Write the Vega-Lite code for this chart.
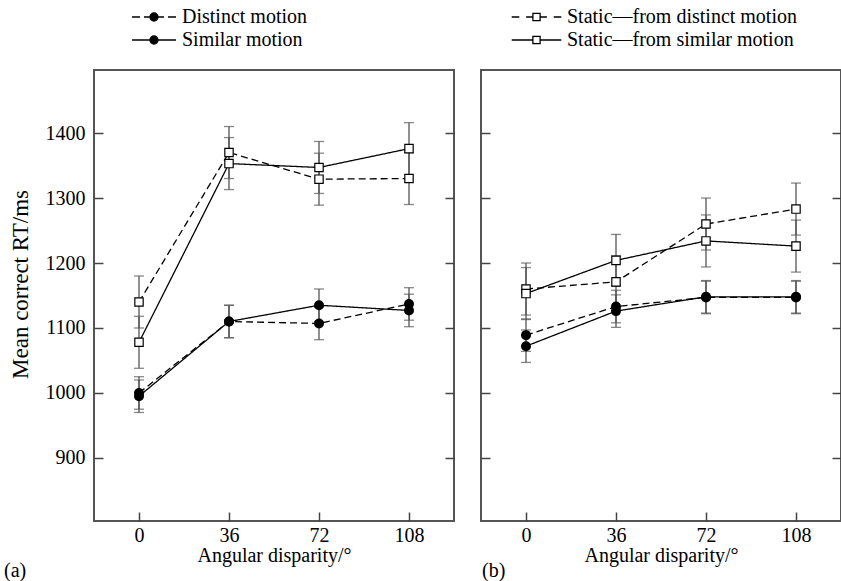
{
  "$schema": "https://vega.github.io/schema/vega-lite/v6.json",
  "padding": {"left": 3, "top": 6, "right": 2, "bottom": 0},
  "background": "white",
  "datasets": {
    "d": [
      {"panel": "a", "series": "Distinct motion", "x": 0, "y": 1000, "lo": 975, "hi": 1025},
      {"panel": "a", "series": "Distinct motion", "x": 36, "y": 1110, "lo": 1085, "hi": 1135},
      {"panel": "a", "series": "Distinct motion", "x": 72, "y": 1107, "lo": 1082, "hi": 1132},
      {"panel": "a", "series": "Distinct motion", "x": 108, "y": 1137, "lo": 1112, "hi": 1162},
      {"panel": "a", "series": "Similar motion", "x": 0, "y": 995, "lo": 970, "hi": 1020},
      {"panel": "a", "series": "Similar motion", "x": 36, "y": 1110, "lo": 1085, "hi": 1135},
      {"panel": "a", "series": "Similar motion", "x": 72, "y": 1135, "lo": 1110, "hi": 1160},
      {"panel": "a", "series": "Similar motion", "x": 108, "y": 1127, "lo": 1102, "hi": 1152},
      {"panel": "a", "series": "Static—from distinct motion", "x": 0, "y": 1140, "lo": 1100, "hi": 1180},
      {"panel": "a", "series": "Static—from distinct motion", "x": 36, "y": 1370, "lo": 1330, "hi": 1410},
      {"panel": "a", "series": "Static—from distinct motion", "x": 72, "y": 1329, "lo": 1289, "hi": 1369},
      {"panel": "a", "series": "Static—from distinct motion", "x": 108, "y": 1330, "lo": 1290, "hi": 1370},
      {"panel": "a", "series": "Static—from similar motion", "x": 0, "y": 1078, "lo": 1038, "hi": 1118},
      {"panel": "a", "series": "Static—from similar motion", "x": 36, "y": 1353, "lo": 1313, "hi": 1393},
      {"panel": "a", "series": "Static—from similar motion", "x": 72, "y": 1347, "lo": 1307, "hi": 1387},
      {"panel": "a", "series": "Static—from similar motion", "x": 108, "y": 1376, "lo": 1336, "hi": 1416},
      {"panel": "b", "series": "Distinct motion", "x": 0, "y": 1089, "lo": 1064, "hi": 1114},
      {"panel": "b", "series": "Distinct motion", "x": 36, "y": 1133, "lo": 1108, "hi": 1158},
      {"panel": "b", "series": "Distinct motion", "x": 72, "y": 1147, "lo": 1122, "hi": 1172},
      {"panel": "b", "series": "Distinct motion", "x": 108, "y": 1147, "lo": 1122, "hi": 1172},
      {"panel": "b", "series": "Similar motion", "x": 0, "y": 1072, "lo": 1047, "hi": 1097},
      {"panel": "b", "series": "Similar motion", "x": 36, "y": 1126, "lo": 1101, "hi": 1151},
      {"panel": "b", "series": "Similar motion", "x": 72, "y": 1148, "lo": 1123, "hi": 1173},
      {"panel": "b", "series": "Similar motion", "x": 108, "y": 1148, "lo": 1123, "hi": 1173},
      {"panel": "b", "series": "Static—from distinct motion", "x": 0, "y": 1160, "lo": 1120, "hi": 1200},
      {"panel": "b", "series": "Static—from distinct motion", "x": 36, "y": 1171, "lo": 1131, "hi": 1211},
      {"panel": "b", "series": "Static—from distinct motion", "x": 72, "y": 1260, "lo": 1220, "hi": 1300},
      {"panel": "b", "series": "Static—from distinct motion", "x": 108, "y": 1283, "lo": 1243, "hi": 1323},
      {"panel": "b", "series": "Static—from similar motion", "x": 0, "y": 1153, "lo": 1113, "hi": 1193},
      {"panel": "b", "series": "Static—from similar motion", "x": 36, "y": 1204, "lo": 1164, "hi": 1244},
      {"panel": "b", "series": "Static—from similar motion", "x": 72, "y": 1234, "lo": 1194, "hi": 1274},
      {"panel": "b", "series": "Static—from similar motion", "x": 108, "y": 1226, "lo": 1186, "hi": 1266}
    ]
  },
  "data": {"name": "d"},
  "spacing": 23,
  "hconcat": [
    {
      "width": 360,
      "height": 451,
      "transform": [{"filter": "datum.panel === 'a'"}],
      "title": {"text": "(a)", "orient": "bottom", "anchor": "start", "frame": "group", "dx": -90, "dy": -4, "offset": 0},
      "layer": [
        {
          "mark": {"type": "line", "color": "black", "strokeWidth": 1.3},
          "encoding": {
            "x": {"field": "x", "type": "quantitative", "scale": {"domain": [-18, 126], "nice": false, "zero": false},
                  "axis": {"values": [0, 36, 72, 108], "title": "Angular disparity/°", "tickSize": -9, "labelPadding": 13, "domain": false, "grid": false, "titlePadding": 0}},
            "y": {"field": "y", "type": "quantitative", "scale": {"domain": [803, 1497], "nice": false, "zero": false},
                  "axis": {"orient": "left", "values": [900, 1000, 1100, 1200, 1300, 1400], "format": "d", "title": "Mean correct RT/ms", "titleFontSize": 23, "titleY": 214, "tickSize": -9, "labelPadding": 18, "domain": false, "grid": false, "titlePadding": 13}},
            "detail": {"field": "series"},
            "strokeDash": {"field": "series", "type": "nominal",
                           "scale": {"domain": ["Distinct motion", "Similar motion", "Static—from distinct motion", "Static—from similar motion"], "range": [[7, 4], [1, 0], [7, 4], [1, 0]]},
                           "legend": null}
          }
        },
        {
          "mark": {"type": "rule", "color": "#555", "strokeWidth": 1.3},
          "encoding": {
            "x": {"field": "x", "type": "quantitative", "scale": {"domain": [-18, 126], "nice": false, "zero": false}},
            "y": {"field": "lo", "type": "quantitative", "scale": {"domain": [803, 1497], "nice": false, "zero": false},
                  "axis": {"orient": "right", "values": [900, 1000, 1100, 1200, 1300, 1400], "labels": false, "title": null, "tickSize": -9, "domain": false, "grid": false}},
            "y2": {"field": "hi"}
          }
        },
        {
          "mark": {"type": "tick", "orient": "horizontal", "size": 10, "thickness": 1.3, "color": "#555"},
          "encoding": {
            "x": {"field": "x", "type": "quantitative", "scale": {"domain": [-18, 126], "nice": false, "zero": false}},
            "y": {"field": "lo", "type": "quantitative", "scale": {"domain": [803, 1497], "nice": false, "zero": false}, "axis": null}
          }
        },
        {
          "mark": {"type": "tick", "orient": "horizontal", "size": 10, "thickness": 1.3, "color": "#555"},
          "encoding": {
            "x": {"field": "x", "type": "quantitative", "scale": {"domain": [-18, 126], "nice": false, "zero": false}},
            "y": {"field": "hi", "type": "quantitative", "scale": {"domain": [803, 1497], "nice": false, "zero": false}, "axis": null}
          }
        },
        {
          "transform": [{"filter": {"field": "series", "oneOf": ["Distinct motion", "Similar motion"]}}],
          "mark": {"type": "point", "shape": "circle", "filled": true, "color": "black", "size": 100, "opacity": 1},
          "encoding": {
            "x": {"field": "x", "type": "quantitative", "scale": {"domain": [-18, 126], "nice": false, "zero": false}},
            "y": {"field": "y", "type": "quantitative", "scale": {"domain": [803, 1497], "nice": false, "zero": false}, "axis": null}
          }
        },
        {
          "transform": [{"filter": {"field": "series", "oneOf": ["Static—from distinct motion", "Static—from similar motion"]}}],
          "mark": {"type": "point", "shape": "square", "filled": true, "fill": "white", "stroke": "black", "strokeWidth": 1.2, "size": 70, "opacity": 1},
          "encoding": {
            "x": {"field": "x", "type": "quantitative", "scale": {"domain": [-18, 126], "nice": false, "zero": false}},
            "y": {"field": "y", "type": "quantitative", "scale": {"domain": [803, 1497], "nice": false, "zero": false}, "axis": null}
          }
        },
        {
          "transform": [{"filter": "datum.x < -1000"}],
          "mark": {"type": "point", "filled": false, "fill": "black", "stroke": "black", "strokeWidth": 1.3, "opacity": 1},
          "encoding": {
            "x": {"field": "x", "type": "quantitative", "scale": {"domain": [-18, 126], "nice": false, "zero": false}},
            "y": {"field": "y", "type": "quantitative", "scale": {"domain": [803, 1497], "nice": false, "zero": false}, "axis": null},
            "shape": {"field": "series", "type": "nominal",
                      "scale": {"domain": ["Distinct motion", "Similar motion"],
                                "range": ["M-5.5,0H-3.5M-2.5,0H-1M1,0H2.5M3.5,0H5.5M-1,0A1,1 0 1,0 1,0A1,1 0 1,0 -1,0Z",
                                          "M-5.5,0H-1M1,0H5.5M-1,0A1,1 0 1,0 1,0A1,1 0 1,0 -1,0Z"]},
                      "legend": {"orient": "none", "legendX": 50, "legendY": -63, "direction": "vertical", "title": null,
                                 "symbolSize": 64, "labelOffset": 18, "labelFontSize": 20, "labelFont": "Liberation Serif", "labelColor": "black", "labelLimit": 500,
                                 "symbolStrokeWidth": 1.3,
                                 "rowPadding": 3, "padding": 0,
                                 "encode": {"symbols": {"stroke": {"value": "black"}, "fill": {"value": "black"}, "strokeWidth": {"value": 1.3}}}}}
          }
        }
      ],
      "resolve": {"axis": {"y": "independent"}}
    },
    {
      "width": 360,
      "height": 451,
      "transform": [{"filter": "datum.panel === 'b'"}],
      "title": {"text": "(b)", "orient": "bottom", "anchor": "start", "frame": "group", "dx": 1, "dy": -4, "offset": 0},
      "layer": [
        {
          "mark": {"type": "line", "color": "black", "strokeWidth": 1.3},
          "encoding": {
            "x": {"field": "x", "type": "quantitative", "scale": {"domain": [-18, 126], "nice": false, "zero": false},
                  "axis": {"values": [0, 36, 72, 108], "title": "Angular disparity/°", "tickSize": -9, "labelPadding": 13, "domain": false, "grid": false, "titlePadding": 0}},
            "y": {"field": "y", "type": "quantitative", "scale": {"domain": [803, 1497], "nice": false, "zero": false},
                  "axis": {"orient": "left", "values": [900, 1000, 1100, 1200, 1300, 1400], "labels": false, "title": null, "tickSize": -9, "domain": false, "grid": false}},
            "detail": {"field": "series"},
            "strokeDash": {"field": "series", "type": "nominal",
                           "scale": {"domain": ["Distinct motion", "Similar motion", "Static—from distinct motion", "Static—from similar motion"], "range": [[7, 4], [1, 0], [7, 4], [1, 0]]},
                           "legend": null}
          }
        },
        {
          "mark": {"type": "rule", "color": "#555", "strokeWidth": 1.3},
          "encoding": {
            "x": {"field": "x", "type": "quantitative", "scale": {"domain": [-18, 126], "nice": false, "zero": false}},
            "y": {"field": "lo", "type": "quantitative", "scale": {"domain": [803, 1497], "nice": false, "zero": false},
                  "axis": {"orient": "right", "values": [900, 1000, 1100, 1200, 1300, 1400], "labels": false, "title": null, "tickSize": -9, "domain": false, "grid": false}},
            "y2": {"field": "hi"}
          }
        },
        {
          "mark": {"type": "tick", "orient": "horizontal", "size": 10, "thickness": 1.3, "color": "#555"},
          "encoding": {
            "x": {"field": "x", "type": "quantitative", "scale": {"domain": [-18, 126], "nice": false, "zero": false}},
            "y": {"field": "lo", "type": "quantitative", "scale": {"domain": [803, 1497], "nice": false, "zero": false}, "axis": null}
          }
        },
        {
          "mark": {"type": "tick", "orient": "horizontal", "size": 10, "thickness": 1.3, "color": "#555"},
          "encoding": {
            "x": {"field": "x", "type": "quantitative", "scale": {"domain": [-18, 126], "nice": false, "zero": false}},
            "y": {"field": "hi", "type": "quantitative", "scale": {"domain": [803, 1497], "nice": false, "zero": false}, "axis": null}
          }
        },
        {
          "transform": [{"filter": {"field": "series", "oneOf": ["Distinct motion", "Similar motion"]}}],
          "mark": {"type": "point", "shape": "circle", "filled": true, "color": "black", "size": 100, "opacity": 1},
          "encoding": {
            "x": {"field": "x", "type": "quantitative", "scale": {"domain": [-18, 126], "nice": false, "zero": false}},
            "y": {"field": "y", "type": "quantitative", "scale": {"domain": [803, 1497], "nice": false, "zero": false}, "axis": null}
          }
        },
        {
          "transform": [{"filter": {"field": "series", "oneOf": ["Static—from distinct motion", "Static—from similar motion"]}}],
          "mark": {"type": "point", "shape": "square", "filled": true, "fill": "white", "stroke": "black", "strokeWidth": 1.2, "size": 70, "opacity": 1},
          "encoding": {
            "x": {"field": "x", "type": "quantitative", "scale": {"domain": [-18, 126], "nice": false, "zero": false}},
            "y": {"field": "y", "type": "quantitative", "scale": {"domain": [803, 1497], "nice": false, "zero": false}, "axis": null}
          }
        },
        {
          "transform": [{"filter": "datum.x < -1000"}],
          "mark": {"type": "point", "filled": false, "fill": "white", "stroke": "black", "strokeWidth": 1.3, "opacity": 1},
          "encoding": {
            "x": {"field": "x", "type": "quantitative", "scale": {"domain": [-18, 126], "nice": false, "zero": false}},
            "y": {"field": "y", "type": "quantitative", "scale": {"domain": [803, 1497], "nice": false, "zero": false}, "axis": null},
            "shape": {"field": "series", "type": "nominal",
                      "scale": {"domain": ["Static—from distinct motion", "Static—from similar motion"],
                                "range": ["M-6.2,0H-4.3M-2.6,0H-0.9M0.9,0H2.6M4.3,0H6.2M-0.9,-0.9H0.9V0.9H-0.9Z",
                                          "M-6.2,0H-0.9M0.9,0H6.2M-0.9,-0.9H0.9V0.9H-0.9Z"]},
                      "legend": {"orient": "none", "legendX": 45.5, "legendY": -63, "direction": "vertical", "title": null,
                                 "symbolSize": 64, "labelOffset": 20.5, "labelFontSize": 20, "labelFont": "Liberation Serif", "labelColor": "black", "labelLimit": 500,
                                 "symbolStrokeWidth": 1.3,
                                 "rowPadding": 3, "padding": 0}}
          }
        }
      ],
      "resolve": {"axis": {"y": "independent"}}
    }
  ],
  "resolve": {"scale": {"x": "independent", "y": "independent", "shape": "independent", "strokeDash": "independent"}, "legend": {"shape": "independent"}},
  "config": {
    "view": {"stroke": "#555", "strokeWidth": 2},
    "font": "Liberation Serif",
    "axis": {"labelFont": "Liberation Serif", "titleFont": "Liberation Serif", "labelFontSize": 20, "titleFontSize": 20, "titleFontWeight": "normal",
             "labelColor": "black", "titleColor": "black", "tickColor": "#444", "tickWidth": 1.5},
    "title": {"font": "Liberation Serif", "fontSize": 20, "fontWeight": "normal", "color": "black"},
    "legend": {"labelFont": "Liberation Serif", "labelFontSize": 20}
  }
}
